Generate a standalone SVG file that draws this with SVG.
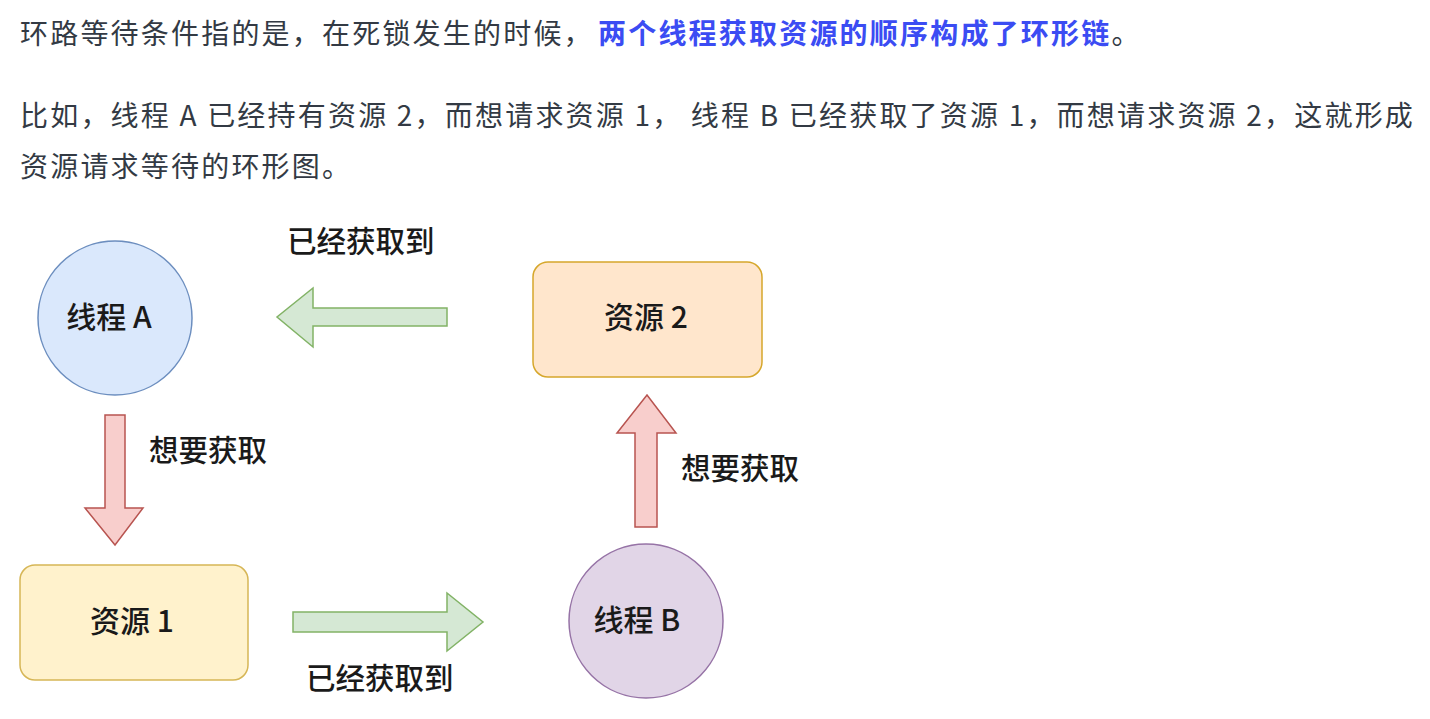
<svg xmlns="http://www.w3.org/2000/svg" width="1430" height="719" viewBox="0 0 1430 719">
<style>
.p{font-family:"Noto Sans CJK SC","Liberation Sans",sans-serif;font-size:28px;fill:#333a44;letter-spacing:2.2px}
.b{fill:#3b4cf3;font-weight:bold}
.l{font-family:"Noto Sans CJK SC","Liberation Sans",sans-serif;font-size:29.5px;fill:#1a1a1a;font-weight:500}
.n{font-family:"Noto Sans CJK SC","Liberation Sans",sans-serif;font-size:30px;fill:#1a1a1a;font-weight:500;text-anchor:middle}
.g{fill:#d5e8d4;stroke:#82b366;stroke-width:1.5}
.r{fill:#f8cecc;stroke:#b85450;stroke-width:1.5}
</style>
<rect width="1430" height="719" fill="#ffffff"/>
<g id="paragraph">
<text class="p" x="20" y="44">环路等待条件指的是，在死锁发生的时候，</text>
<text class="p b" x="598" y="44">两个线程获取资源的顺序构成了环形链<tspan class="p" style="font-weight:normal">。</tspan></text>
<text class="p" x="20" y="126">比如，线程 A 已经持有资源 2，而想请求资源 1， 线程 B 已经获取了资源 1，而想请求资源 2，这就形成</text>
<text class="p" x="20" y="177">资源请求等待的环形图。</text>
</g>
<g id="threadA">
<circle cx="115" cy="318" r="77" fill="#dae8fc" stroke="#6c8ebf" stroke-width="1.5"/>
<text class="n" x="109" y="328">线程 A</text>
</g>
<g id="resource2">
<rect x="533" y="262" width="229" height="115" rx="15" fill="#ffe6cc" stroke="#d6a72b" stroke-width="1.5"/>
<text class="n" x="646" y="328">资源 2</text>
</g>
<g id="resource1">
<rect x="20" y="565" width="228" height="115" rx="15" fill="#fff2cc" stroke="#d6b656" stroke-width="1.5"/>
<text class="n" x="132" y="632">资源 1</text>
</g>
<g id="threadB">
<circle cx="646" cy="621" r="77" fill="#e1d5e7" stroke="#9673a6" stroke-width="1.5"/>
<text class="n" x="637" y="631">线程 B</text>
</g>
<g id="connectors">
<polygon class="g" points="447,308 313,308 313,288 277,317 313,347 313,326 447,326"/>
<polygon class="r" points="105,415 125,415 125,508 143,508 115,545 85,508 105,508"/>
<polygon class="g" points="293,612 447,612 447,593 483,622 447,651 447,632 293,632"/>
<polygon class="r" points="635,527 657,527 657,433 676,433 647,395 617,433 635,433"/>
<text class="l" x="287" y="252">已经获取到</text>
<text class="l" x="149" y="461">想要获取</text>
<text class="l" x="681" y="479">想要获取</text>
<text class="l" x="306" y="689">已经获取到</text>
</g>
</svg>
